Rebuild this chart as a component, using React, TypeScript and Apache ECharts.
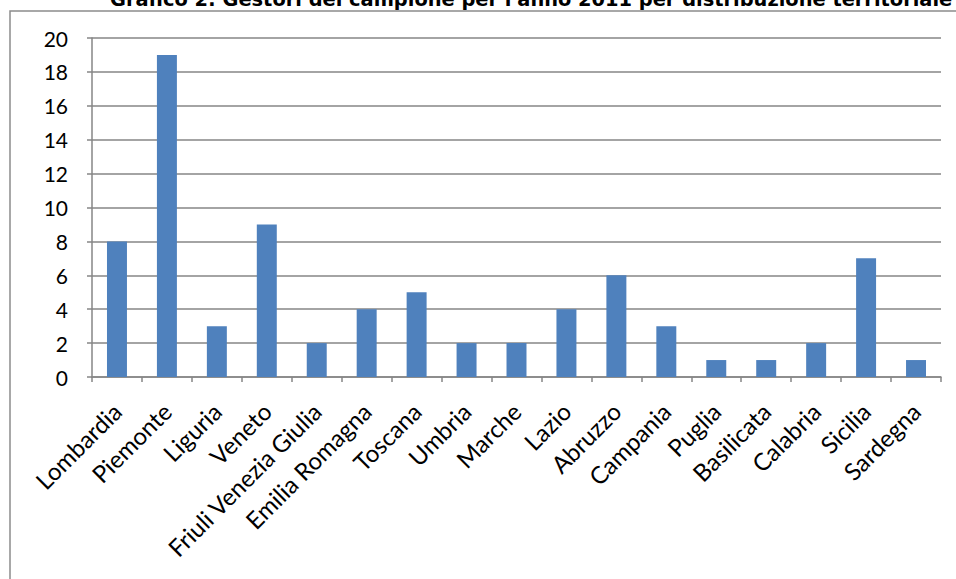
import React, { useEffect, useRef } from "react";
import * as echarts from "echarts";

const categories = [
  "Lombardia", "Piemonte", "Liguria", "Veneto", "Friuli Venezia Giulia",
  "Emilia Romagna", "Toscana", "Umbria", "Marche", "Lazio", "Abruzzo",
  "Campania", "Puglia", "Basilicata", "Calabria", "Sicilia", "Sardegna",
];
const values = [8, 19, 3, 9, 2, 4, 5, 2, 2, 4, 6, 3, 1, 1, 2, 7, 1];
const yTicks = { min: 0, max: 20, interval: 2 };
const title = "Grafico 2: Gestori del campione per l'anno 2011 per distribuzione territoriale";

export default function App() {
  const ref = useRef<HTMLDivElement>(null);
  useEffect(() => {
    document.body.style.margin = "0";
    const chart = echarts.init(ref.current!, null, { renderer: "svg" });
    const gray = "#868686";
    const font = "Lato";
    chart.setOption({
      animation: false,
      backgroundColor: "#ffffff",
      graphic: [
        {
          type: "rect",
          shape: { x: 10, y: 11, width: 960, height: 600 },
          style: { fill: "none", stroke: "#8c8c8c", lineWidth: 1.5 },
          silent: true,
        },
        {
          type: "text",
          x: 110,
          y: -1,
          style: {
            text: title,
            font: "bold 19.4px 'DejaVu Sans'",
            fill: "#000",
            verticalAlign: "middle",
          },
        },
      ],
      grid: { left: 92, top: 38, right: 15, bottom: 202, containLabel: false },
      xAxis: {
        type: "category",
        data: categories,
        axisLine: { lineStyle: { color: gray, width: 1.5 } },
        axisTick: { show: true, length: 5, lineStyle: { color: gray, width: 1.5 } },
        axisLabel: {
          interval: 0,
          rotate: 45,
          margin: 30,
          fontFamily: font,
          fontSize: 24,
          color: "#000",
        },
      },
      yAxis: {
        type: "value",
        min: yTicks.min,
        max: yTicks.max,
        interval: yTicks.interval,
        axisLine: { show: true, lineStyle: { color: gray, width: 1.5 } },
        axisTick: { show: true, length: 5, lineStyle: { color: gray, width: 1.5 } },
        splitLine: { lineStyle: { color: gray, width: 1.5 } },
        axisLabel: { margin: 24, fontFamily: font, fontSize: 21, color: "#000" },
      },
      series: [
        {
          type: "bar",
          data: values,
          barCategoryGap: "60%",
          itemStyle: { color: "#4F81BD" },
        },
      ],
    });
    return () => chart.dispose();
  }, []);
  return <div ref={ref} style={{ width: 956, height: 579 }} />;
}
